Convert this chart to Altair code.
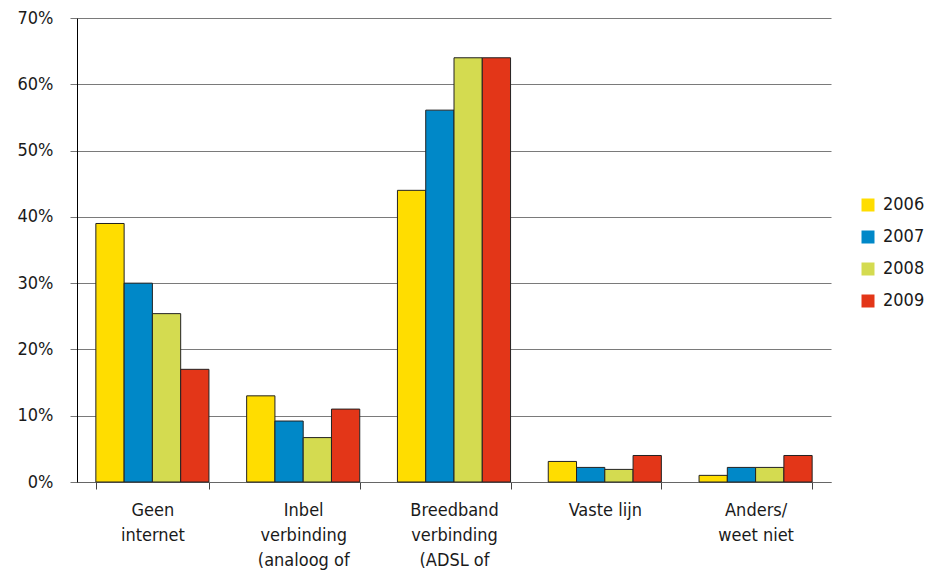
import altair as alt
import pandas as pd

categories = ["Geen|internet", "Inbel|verbinding|(analoog of",
              "Breedband|verbinding|(ADSL of", "Vaste lijn", "Anders/|weet niet"]
years = ["2006", "2007", "2008", "2009"]
values_2006 = [0.39, 0.13, 0.44, 0.031, 0.01]
values_2007 = [0.30, 0.092, 0.561, 0.022, 0.022]
values_2008 = [0.254, 0.067, 0.64, 0.019, 0.022]
values_2009 = [0.17, 0.11, 0.64, 0.04, 0.04]
colors = ["#FFDD00", "#0088C8", "#D4DB50", "#E33618"]

series = [values_2006, values_2007, values_2008, values_2009]
rows = []
for y, vals in zip(years, series):
    for c, v in zip(categories, vals):
        rows.append({"cat": c, "year": y, "value": v})
df = pd.DataFrame(rows)

font = "DejaVu Sans Condensed, DejaVu Sans"

chart = alt.Chart(df).mark_bar(stroke="#222222", strokeWidth=1).encode(
    x=alt.X("cat:N", sort=categories,
            scale=alt.Scale(paddingInner=0.25, paddingOuter=0.125),
            axis=alt.Axis(title=None, labelAngle=0, labelExpr="split(datum.label, '|')",
                          labelFontSize=18, labelFont=font, labelColor="#1a1a1a",
                          labelLineHeight=25, labelPadding=12, labelBaseline="top",
                          tickBand="extent", tickSize=7, tickColor="#444444",
                          domainColor="#666666", grid=False, labelLimit=200)),
    xOffset=alt.XOffset("year:N", sort=years, scale=alt.Scale(paddingInner=0, paddingOuter=0)),
    y=alt.Y("value:Q", scale=alt.Scale(domain=[0, 0.7], nice=False),
            axis=alt.Axis(title=None, format=".0%", values=[0, 0.1, 0.2, 0.3, 0.4, 0.5, 0.6, 0.7],
                          labelFontSize=18, labelFont=font, labelColor="#1a1a1a",
                          labelPadding=17, tickSize=7, tickColor="#777777",
                          domainColor="#000000", gridColor="#7a7a7a", gridWidth=1.2)),
    color=alt.Color("year:N", sort=years,
                    scale=alt.Scale(domain=years, range=colors),
                    legend=alt.Legend(title=None, orient="none", legendX=782, legendY=178,
                                      symbolType="square", symbolSize=169, symbolStrokeWidth=0,
                                      symbolOpacity=1, labelFontSize=18, labelFont=font,
                                      labelColor="#1a1a1a", rowPadding=14, labelOffset=6)),
).properties(
    width=754, height=464,
    autosize=alt.AutoSizeParams(type="none"),
    padding={"left": 69, "top": 10, "right": 97, "bottom": 89},
).configure_view(stroke=None)

chart.save("out.html", embed_options={"renderer": "svg", "actions": False})
